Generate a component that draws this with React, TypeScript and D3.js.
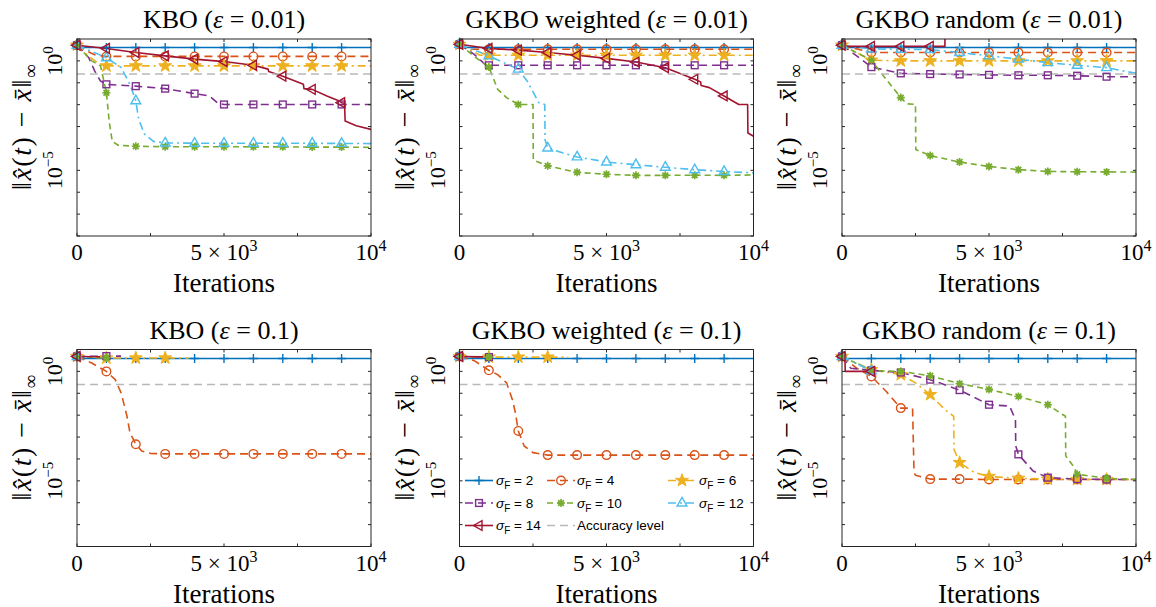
import React from 'react';
import * as d3 from 'd3';

type Pt = [number, number];

// ---------- styling of the seven series (sigma_F = 2 ... 14) ----------
const sigmaLabels = ['2', '4', '6', '8', '10', '12', '14'];
const seriesColors = ['#0072BD', '#D95319', '#EDB120', '#7E2F8E', '#77AC30', '#4DBEEE', '#A2142F'];
const seriesDash = ['', '8,5', '8,4,2,4', '8,5', '6,4', '8,4,2,4', ''];
const seriesMarker = ['plus', 'circle', 'star', 'square', 'asterisk', 'triUp', 'triLeft'];

const accuracyLevel = 0.25;
const xTicks = [0, 2500, 5000, 7500, 10000];
const yTicks = [1e-8, 1e-7, 1e-6, 1e-5, 1e-4, 1e-3, 1e-2, 1e-1, 1e0, 1e1];
const yTickLabels: [number, string][] = [[1e0, '0'], [1e-5, '−5']];
const markerIters = [0, 1000, 2000, 3000, 4000, 5000, 6000, 7000, 8000, 9000];

const methodTitles = ['KBO', 'GKBO weighted', 'GKBO random'];
const epsLabels = ['0.01', '0.1'];

// ---------- data: [iteration, ||x_hat(t) - x_bar||_inf] ----------
const kbo001: Pt[][] = [
  [[0, 5.2], [150, 4.1], [1000, 4.1], [2000, 4.1], [3000, 4.1], [4000, 4.1], [5000, 4.1], [6000, 4.1], [7000, 4.1], [8000, 4.1], [9000, 4.1], [10000, 4.1]],
  [[0, 5.2], [300, 3.0], [600, 1.9], [1000, 1.6], [2000, 1.6], [3000, 1.6], [4000, 1.6], [5000, 1.6], [6000, 1.6], [7000, 1.6], [8000, 1.6], [9000, 1.6], [10000, 1.6]],
  [[0, 5.2], [400, 1.6], [800, 0.65], [1000, 0.59], [2000, 0.59], [3000, 0.59], [4000, 0.59], [5000, 0.59], [6000, 0.59], [7000, 0.59], [8000, 0.59], [9000, 0.59], [10000, 0.59]],
  [[0, 5.2], [400, 1.4], [600, 0.35], [800, 0.12], [1000, 0.085], [2000, 0.07], [3000, 0.054], [4000, 0.032], [4500, 0.025], [4800, 0.0115], [5000, 0.0102], [6000, 0.0102], [7000, 0.0102], [8000, 0.0102], [9000, 0.0102], [10000, 0.0102]],
  [[0, 5.2], [500, 1.0], [800, 0.59], [1000, 0.035], [1100, 0.0015], [1200, 2.1e-4], [1400, 1.4e-4], [2000, 1.26e-4], [3000, 1.2e-4], [4000, 1.2e-4], [5000, 1.2e-4], [6000, 1.18e-4], [7000, 1.18e-4], [8000, 1.15e-4], [9000, 1.15e-4], [10000, 1.12e-4]],
  [[0, 5.2], [1000, 1.4], [1500, 0.5], [1800, 0.085], [2000, 0.015], [2100, 0.0021], [2300, 4.4e-4], [2600, 2.1e-4], [3000, 1.78e-4], [4000, 1.74e-4], [5000, 1.74e-4], [6000, 1.74e-4], [7000, 1.74e-4], [8000, 1.72e-4], [9000, 1.7e-4], [10000, 1.66e-4]],
  [[0, 5.2], [1000, 3.7], [2000, 2.4], [3000, 1.7], [4000, 1.2], [5000, 0.93], [6000, 0.63], [6500, 0.42], [6520, 0.33], [7000, 0.2], [7700, 0.085], [7720, 0.054], [8000, 0.05], [8500, 0.025], [8900, 0.015], [9000, 0.0123], [9100, 0.0115], [9120, 0.0018], [9500, 0.0011], [10000, 7.4e-4]],
];

const gkbow001: Pt[][] = [
  [[0, 5.75], [100, 4.1], [1000, 4.1], [2000, 4.1], [3000, 4.1], [4000, 4.1], [5000, 4.1], [6000, 4.1], [7000, 4.1], [8000, 4.1], [9000, 4.1], [10000, 4.1]],
  [[0, 5.75], [300, 3.4], [1000, 3.4], [2000, 3.4], [3000, 3.4], [4000, 3.4], [5000, 3.4], [6000, 3.4], [7000, 3.4], [8000, 3.4], [9000, 3.4], [10000, 3.4]],
  [[0, 5.75], [700, 1.8], [1000, 1.8], [2000, 1.8], [3000, 1.8], [4000, 1.8], [5000, 1.8], [6000, 1.8], [7000, 1.8], [8000, 1.8], [9000, 1.8], [10000, 1.8]],
  [[0, 5.75], [500, 2.0], [900, 0.63], [1000, 0.63], [2000, 0.63], [3000, 0.63], [4000, 0.63], [5000, 0.63], [6000, 0.63], [7000, 0.63], [8000, 0.63], [9000, 0.63], [10000, 0.63]],
  [[0, 5.75], [500, 1.6], [1000, 0.52], [1300, 0.05], [1600, 0.021], [2000, 0.0102], [2500, 0.0102], [2510, 3.2e-5], [2600, 2.6e-5], [3000, 1.6e-5], [4000, 8.1e-6], [5000, 6.6e-6], [6000, 5.9e-6], [7000, 5.9e-6], [8000, 6.0e-6], [9000, 5.9e-6], [10000, 6.1e-6]],
  [[0, 5.75], [1000, 1.7], [1500, 0.83], [2000, 0.42], [2300, 0.12], [2700, 0.0123], [2900, 0.0102], [2910, 2.5e-4], [3000, 1.05e-4], [3500, 6.3e-5], [4000, 4.1e-5], [5000, 2.4e-5], [6000, 1.8e-5], [7000, 1.38e-5], [8000, 1.07e-5], [9000, 8.9e-6], [10000, 7.6e-6]],
  [[0, 5.75], [1000, 3.7], [2000, 3.1], [3000, 2.4], [4000, 1.8], [5000, 1.3], [6000, 0.89], [7000, 0.49], [8000, 0.145], [8200, 0.11], [8220, 0.075], [8500, 0.06], [9000, 0.025], [9500, 0.0102], [9800, 0.0102], [9810, 5.1e-4], [10000, 3.6e-4]],
];

const gkbor001: Pt[][] = [
  [[0, 5.2], [100, 4.1], [1000, 4.1], [2000, 4.1], [3000, 4.1], [4000, 4.1], [5000, 4.1], [6000, 4.1], [7000, 4.1], [8000, 4.1], [9000, 4.1], [10000, 4.1]],
  [[0, 5.2], [1000, 2.4], [2000, 2.4], [3000, 2.4], [4000, 2.4], [5000, 2.4], [6000, 2.4], [7000, 2.4], [8000, 2.4], [9000, 2.4], [10000, 2.4]],
  [[0, 5.2], [1000, 1.07], [2000, 1.0], [3000, 1.0], [4000, 1.0], [5000, 1.0], [6000, 1.0], [7000, 1.0], [8000, 1.0], [9000, 1.0], [10000, 1.0]],
  [[0, 5.2], [500, 1.7], [1000, 0.52], [2000, 0.27], [3000, 0.25], [4000, 0.24], [5000, 0.23], [6000, 0.22], [7000, 0.22], [8000, 0.21], [9000, 0.19], [10000, 0.19]],
  [[0, 5.2], [1000, 1.07], [1500, 0.145], [2000, 0.021], [2200, 0.011], [2500, 0.0102], [2510, 8.9e-5], [3000, 4.7e-5], [4000, 2.4e-5], [5000, 1.5e-5], [6000, 1.07e-5], [7000, 8.9e-6], [8000, 8.6e-6], [9000, 8.5e-6], [10000, 8.3e-6]],
  [[0, 5.2], [1000, 3.5], [2000, 3.4], [3000, 3.3], [4000, 2.4], [5000, 1.7], [6000, 1.2], [7000, 0.83], [8000, 0.63], [9000, 0.49], [10000, 0.27]],
  [[0, 5.2], [100, 4.6], [1000, 4.6], [2000, 4.6], [3000, 4.6], [3500, 4.6], [3510, 1000]],
];

const kbo01: Pt[][] = [
  [[0, 4.8], [100, 3.9], [1000, 3.9], [2000, 3.9], [3000, 3.9], [4000, 3.9], [5000, 3.9], [6000, 3.9], [7000, 3.9], [8000, 3.9], [9000, 3.9], [10000, 3.9]],
  [[0, 4.8], [500, 2.4], [1000, 1.0], [1300, 0.42], [1500, 0.105], [1700, 0.0089], [1800, 0.0016], [2000, 4.7e-4], [2200, 2.3e-4], [2500, 1.8e-4], [3000, 1.7e-4], [4000, 1.7e-4], [5000, 1.7e-4], [6000, 1.7e-4], [7000, 1.7e-4], [8000, 1.7e-4], [9000, 1.7e-4], [10000, 1.7e-4]],
  [[0, 4.8], [1000, 4.1], [2000, 4.1], [3000, 4.1], [3800, 4.1]],
  [[0, 4.8], [1000, 5.0], [1500, 5.0]],
  [[0, 4.8], [1000, 4.2], [1100, 4.2]],
  [[0, 4.8], [300, 4.6]],
  [[0, 4.8], [800, 4.7]],
];

const gkbow01: Pt[][] = [
  [[0, 4.8], [100, 3.9], [1000, 3.9], [2000, 3.9], [3000, 3.9], [4000, 3.9], [5000, 3.9], [6000, 3.9], [7000, 3.9], [8000, 3.9], [9000, 3.9], [10000, 3.9]],
  [[0, 4.8], [500, 3.1], [1000, 1.12], [1300, 0.71], [1600, 0.3], [1800, 0.051], [1900, 0.013], [2000, 0.0019], [2200, 3.9e-4], [2500, 1.95e-4], [3000, 1.5e-4], [4000, 1.5e-4], [5000, 1.5e-4], [6000, 1.5e-4], [7000, 1.5e-4], [8000, 1.5e-4], [9000, 1.5e-4], [10000, 1.5e-4]],
  [[0, 4.8], [1000, 4.5], [2000, 4.5], [3000, 4.5], [3700, 4.5]],
  [[0, 4.8], [1000, 4.5], [1100, 4.5]],
  [[0, 4.8], [1000, 4.5], [1050, 4.5]],
  [[0, 4.8], [300, 4.6]],
  [[0, 4.8], [800, 4.6]],
];

const gkbor01: Pt[][] = [
  [[0, 4.8], [100, 3.9], [1000, 3.9], [2000, 3.9], [3000, 3.9], [4000, 3.9], [5000, 3.9], [6000, 3.9], [7000, 3.9], [8000, 3.9], [9000, 3.9], [10000, 3.9]],
  [[0, 4.8], [500, 1.4], [1000, 0.59], [1500, 0.123], [2000, 0.021], [2400, 0.021], [2450, 2.4e-5], [2500, 1.8e-5], [3000, 1.2e-5], [4000, 1.2e-5], [5000, 1.15e-5], [6000, 1.15e-5], [7000, 1.15e-5], [8000, 1.15e-5], [9000, 1.15e-5], [10000, 1.15e-5]],
  [[0, 4.8], [1000, 1.2], [2000, 0.71], [2500, 0.3], [3000, 0.087], [3500, 0.018], [3800, 0.0089], [3810, 2.75e-4], [4000, 6.8e-5], [4500, 2.4e-5], [5000, 1.58e-5], [6000, 1.3e-5], [7000, 1.2e-5], [8000, 1.15e-5], [9000, 1.15e-5], [10000, 1.15e-5]],
  [[0, 4.8], [300, 1.4], [1000, 1.12], [2000, 0.89], [3000, 0.42], [4000, 0.14], [5000, 0.03], [5700, 0.026], [5900, 0.0063], [5910, 3.9e-4], [6000, 1.62e-4], [6500, 2.8e-5], [7000, 1.4e-5], [8000, 1.2e-5], [9000, 1.15e-5], [10000, 1.15e-5]],
  [[0, 4.8], [1000, 1.07], [2000, 1.0], [3000, 0.63], [4000, 0.275], [5000, 0.15], [6000, 0.072], [7000, 0.03], [7500, 0.0107], [7600, 0.0089], [7610, 1.38e-4], [7900, 4.1e-5], [8000, 2.0e-5], [9000, 1.3e-5], [10000, 1.15e-5]],
  [[0, 4.8], [1000, 1.07], [1100, 1.07]],
  [[0, 4.8], [100, 4.8], [110, 1.0], [1000, 1.0]],
];

const panelData: Pt[][][][] = [
  [kbo001, gkbow001, gkbor001],
  [kbo01, gkbow01, gkbor01],
];

// ---------- layout ----------
const W = 1156;
const H = 607;
const panelLefts = [77, 459.5, 842];
const PW = 294;
const rowTops = [39, 349.5];
const PH = 197;
const AX = '#262626';
const SERIF = '"Liberation Serif", "DejaVu Serif", serif';
const SANS = '"Liberation Sans", Arial, sans-serif';

function Marker({ kind, cx, cy, color }: { kind: string; cx: number; cy: number; color: string }) {
  const sw = 1.4;
  const t = `translate(${cx},${cy})`;
  if (kind === 'plus') {
    return <path transform={t} d="M-4.5,0H4.5M0,-4.5V4.5" stroke={color} strokeWidth={sw} fill="none" />;
  }
  if (kind === 'circle') {
    return <circle cx={cx} cy={cy} r={4.3} stroke={color} strokeWidth={sw} fill="none" />;
  }
  if (kind === 'square') {
    return <rect x={cx - 3.4} y={cy - 3.4} width={6.8} height={6.8} stroke={color} strokeWidth={sw} fill="none" />;
  }
  if (kind === 'star') {
    const pts: string[] = [];
    for (let i = 0; i < 10; i++) {
      const r = i % 2 === 0 ? 6.8 : 2.7;
      const a = -Math.PI / 2 + (i * Math.PI) / 5;
      pts.push(`${(r * Math.cos(a)).toFixed(2)},${(r * Math.sin(a)).toFixed(2)}`);
    }
    return <polygon transform={t} points={pts.join(' ')} stroke={color} strokeWidth={1} fill={color} />;
  }
  if (kind === 'asterisk') {
    return (
      <g transform={t}>
        <circle r={2.6} fill={color} />
        <path d="M-4,0H4M0,-4V4M-2.9,-2.9L2.9,2.9M-2.9,2.9L2.9,-2.9" stroke={color} strokeWidth={1.6} />
      </g>
    );
  }
  if (kind === 'triUp') {
    return <path transform={t} d="M0,-5.6L4.9,3L-4.9,3Z" stroke={color} strokeWidth={sw} fill="none" />;
  }
  // triLeft
  return <path transform={t} d="M-5.6,0L3,-4.9L3,4.9Z" stroke={color} strokeWidth={sw} fill="none" />;
}

function Panel({ row, col }: { row: number; col: number }) {
  const left = panelLefts[col];
  const top = rowTops[row];
  const bottom = top + PH;
  const right = left + PW;
  const x = d3.scaleLinear().domain([0, 10000]).range([left, right]);
  const y = d3.scaleLog().domain([1e-8, 10]).range([bottom, top]);
  const line = d3.line<Pt>().x((d) => x(d[0])).y((d) => y(d[1]));
  const series = panelData[row][col];
  const clipId = `clip-${row}-${col}`;
  const tickBase = bottom + 24;
  const xlabBase = bottom + 56;
  const cy = (top + bottom) / 2 - 11;
  return (
    <g>
      <defs>
        <clipPath id={clipId}>
          <rect x={left} y={top} width={PW} height={PH} />
        </clipPath>
      </defs>
      {/* series lines */}
      <g clipPath={`url(#${clipId})`}>
        {series.map((s, i) => (
          <path
            key={i}
            d={line(s) || ''}
            fill="none"
            stroke={seriesColors[i]}
            strokeWidth={1.6}
            strokeDasharray={seriesDash[i] || undefined}
            strokeLinejoin="round"
          />
        ))}
        <line
          x1={left}
          x2={right}
          y1={y(accuracyLevel)}
          y2={y(accuracyLevel)}
          stroke="#b9b9b9"
          strokeWidth={1.6}
          strokeDasharray="8,5"
        />
      </g>
      {/* markers */}
      {series.map((s, i) => (
        <g key={i}>
          {s
            .filter((p) => markerIters.includes(p[0]) && p[1] <= 10 && p[1] >= 1e-8)
            .map((p, j) => (
              <Marker key={j} kind={seriesMarker[i]} cx={x(p[0])} cy={y(p[1])} color={seriesColors[i]} />
            ))}
        </g>
      ))}
      {/* axes box */}
      <rect x={left} y={top} width={PW} height={PH} fill="none" stroke={AX} strokeWidth={1} />
      {/* ticks */}
      {xTicks.map((t, i) => (
        <g key={i}>
          <line x1={x(t)} x2={x(t)} y1={bottom} y2={bottom - 3} stroke={AX} />
          <line x1={x(t)} x2={x(t)} y1={top} y2={top + 3} stroke={AX} />
        </g>
      ))}
      {yTicks.map((t, i) => (
        <g key={i}>
          <line x1={left} x2={left + 3} y1={y(t)} y2={y(t)} stroke={AX} />
          <line x1={right} x2={right - 3} y1={y(t)} y2={y(t)} stroke={AX} />
        </g>
      ))}
      {/* x tick labels */}
      <g fontFamily={SERIF} fontSize={23} fill="#000" textAnchor="middle">
        <text x={x(0)} y={tickBase}>0</text>
        <text x={x(5000)} y={tickBase}>
          5 × 10<tspan dy={-9} fontSize={16}>3</tspan>
        </text>
        <text x={x(10000)} y={tickBase}>
          10<tspan dy={-9} fontSize={16}>4</tspan>
        </text>
      </g>
      {/* y tick labels (rotated) */}
      <g fontFamily={SERIF} fontSize={22} fill="#000">
        {yTickLabels.map(([v, e], i) => (
          <text key={i} transform={`translate(${left - 15},${y(v)}) rotate(-90)`} textAnchor="middle">
            10<tspan dy={-9} fontSize={15}>{e}</tspan>
          </text>
        ))}
      </g>
      {/* title */}
      <text x={(left + right) / 2} y={top - 11} textAnchor="middle" fontFamily={SERIF} fontSize={26} fill="#000">
        {methodTitles[col]} (<tspan fontStyle="italic">ε</tspan> = {epsLabels[row]})
      </text>
      {/* x label */}
      <text x={(left + right) / 2} y={xlabBase} textAnchor="middle" fontFamily={SERIF} fontSize={27} fill="#000">
        Iterations
      </text>
      {/* y label */}
      <text
        transform={`translate(${left - 46},${cy}) rotate(-90)`}
        textAnchor="middle"
        fontFamily={SERIF}
        fontSize={28}
        letterSpacing={1.5}
        fill="#000"
      >
        ‖<tspan fontStyle="italic">x̂</tspan>(<tspan fontStyle="italic">t</tspan>) − <tspan fontStyle="italic">x̄</tspan>‖<tspan dy={6} fontSize={19}>∞</tspan>
      </text>
    </g>
  );
}

function Legend() {
  const top = rowTops[1];
  const rows = [top + 131, top + 153.5, top + 176];
  const cols = [
    { l0: 465, l1: 493, tx: 496 },
    { l0: 547, l1: 575, tx: 577 },
    { l0: 668, l1: 696, tx: 699 },
  ];
  return (
    <g fontFamily={SANS} fontSize={13.5} fill="#000">
      {sigmaLabels.map((label, i) => {
        const r = Math.floor(i / 3);
        const c = i % 3;
        const yy = rows[r];
        const cc = cols[c];
        return (
          <g key={i}>
            <line
              x1={cc.l0}
              x2={cc.l1}
              y1={yy}
              y2={yy}
              stroke={seriesColors[i]}
              strokeWidth={1.6}
              strokeDasharray={seriesDash[i] || undefined}
            />
            <Marker kind={seriesMarker[i]} cx={(cc.l0 + cc.l1) / 2} cy={yy} color={seriesColors[i]} />
            <text x={cc.tx} y={yy + 4.5}>
              <tspan fontStyle="italic">σ</tspan>
              <tspan dy={4} fontSize={10}>F</tspan>
              <tspan dy={-4}> = {label}</tspan>
            </text>
          </g>
        );
      })}
      <line x1={cols[1].l0} x2={cols[1].l1} y1={rows[2]} y2={rows[2]} stroke="#b9b9b9" strokeWidth={1.6} strokeDasharray="8,5" />
      <text x={cols[1].tx} y={rows[2] + 4.5}>Accuracy level</text>
    </g>
  );
}

export default function App() {
  return (
    <svg
      width={W}
      height={H}
      viewBox={`0 0 ${W} ${H}`}
      style={{ position: 'absolute', left: 0, top: 0, background: '#fff' }}
    >
      <rect x={0} y={0} width={W} height={H} fill="#fff" />
      {[0, 1].map((r) => [0, 1, 2].map((c) => <Panel key={`${r}-${c}`} row={r} col={c} />))}
      <Legend />
    </svg>
  );
}
